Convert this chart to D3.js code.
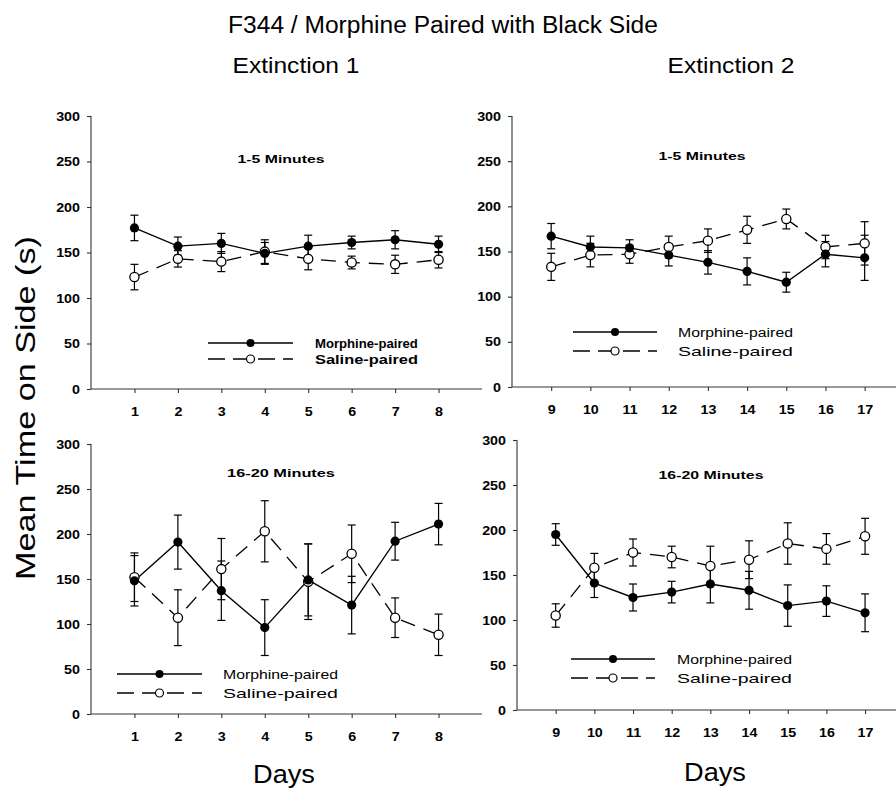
<!DOCTYPE html>
<html><head><meta charset="utf-8">
<script src="https://cdn.jsdelivr.net/npm/d3@7/dist/d3.min.js"></script>
<style>body{margin:0;background:#fff}svg{display:block}text{font-family:"Liberation Sans",Arial,sans-serif;fill:#000}</style>
</head><body>
<svg id="c" width="896" height="790"></svg>
<script>
// ---- data ----
const days1 = [1, 2, 3, 4, 5, 6, 7, 8];
const days2 = [9, 10, 11, 12, 13, 14, 15, 16, 17];
const yTicks = [0, 50, 100, 150, 200, 250, 300];

const ext1EarlyMorphine = [177, 157, 160, 149, 157, 161, 164, 159];
const ext1EarlyMorphineErr = [14, 10, 11, 12, 12, 7, 10, 9];
const ext1EarlySaline = [123, 143, 140, 151, 143, 139, 137, 142];
const ext1EarlySalineErr = [14, 9, 11, 13, 12, 7, 10, 9];

const ext2EarlyMorphine = [167, 155, 154, 146, 138, 128, 116, 147, 143];
const ext2EarlyMorphineErr = [14, 12, 9, 12, 13, 15, 11, 14, 25];
const ext2EarlySaline = [133, 146, 147, 155, 162, 174, 186, 155, 159];
const ext2EarlySalineErr = [15, 13, 10, 12, 13, 15, 11, 13, 24];

const ext1LateMorphine = [148, 191, 137, 96, 149, 121, 192, 211];
const ext1LateMorphineErr = [28, 30, 33, 31, 40, 32, 21, 23];
const ext1LateSaline = [152, 107, 161, 203, 147, 178, 107, 88];
const ext1LateSalineErr = [27, 31, 34, 34, 42, 32, 22, 23];

const ext2LateMorphine = [195, 141, 125, 131, 140, 133, 116, 121, 108];
const ext2LateMorphineErr = [12, 16, 15, 12, 21, 21, 23, 17, 21];
const ext2LateSaline = [105, 158, 175, 170, 160, 167, 185, 179, 193];
const ext2LateSalineErr = [13, 16, 15, 12, 22, 21, 23, 17, 20];

const seriesNames = ["Morphine-paired", "Saline-paired"];
const panelTitles = ["1-5 Minutes", "1-5 Minutes", "16-20 Minutes", "16-20 Minutes"];
const mainTitle = "F344 / Morphine Paired with Black Side";
const columnTitles = ["Extinction 1", "Extinction 2"];
const yLabel = "Mean Time on Side  (s)";
const xLabel = "Days";

// ---- drawing ----
const svg = d3.select("#c");

function fitText(sel, cx, y, size, weight, targetW, rot) {
  const t = sel.attr("font-size", size).attr("font-weight", weight).attr("text-anchor", "middle");
  const w = t.node().getComputedTextLength();
  const sx = targetW ? targetW / w : 1;
  t.attr("transform", `translate(${cx},${y})${rot ? " rotate(" + rot + ")" : ""} scale(${sx},1)`);
  return t;
}

const panels = [
  {days: days1, xd: [0, 9], xr: [91, 482], yr: [389, 116], m: ext1EarlyMorphine, me: ext1EarlyMorphineErr, s: ext1EarlySaline, se: ext1EarlySalineErr,
   title: panelTitles[0], tx: 281, ty: 163, tw: 87, lx: [208, 293], ly: [343, 359], ltx: 315, ltw: 103, bold: true},
  {days: days2, xd: [8, 17.8], xr: [512, 896], yr: [387, 116], m: ext2EarlyMorphine, me: ext2EarlyMorphineErr, s: ext2EarlySaline, se: ext2EarlySalineErr,
   title: panelTitles[1], tx: 702, ty: 160, tw: 87, lx: [573, 657], ly: [332, 351], ltx: 678, ltw: 115, bold: false},
  {days: days1, xd: [0, 9], xr: [91, 482], yr: [714, 444], m: ext1LateMorphine, me: ext1LateMorphineErr, s: ext1LateSaline, se: ext1LateSalineErr,
   title: panelTitles[2], tx: 281, ty: 477, tw: 108, lx: [117, 202], ly: [674, 693], ltx: 223, ltw: 115, bold: false},
  {days: days2, xd: [8, 17.8], xr: [517, 896], yr: [710, 440], m: ext2LateMorphine, me: ext2LateMorphineErr, s: ext2LateSaline, se: ext2LateSalineErr,
   title: panelTitles[3], tx: 711, ty: 479, tw: 105, lx: [571, 655], ly: [659, 678], ltx: 677, ltw: 115, bold: false}
];

const axisColor = "#333";
const tickSx = 1.1;

panels.forEach(p => {
  const x = d3.scaleLinear().domain(p.xd).range(p.xr);
  const y = d3.scaleLinear().domain([0, 300]).range(p.yr);
  const g = svg.append("g");

  // axes
  const ya = g.append("g").attr("transform", `translate(${p.xr[0]},0)`)
    .call(d3.axisLeft(y).tickValues(yTicks).tickSize(4).tickPadding(7));
  const xa = g.append("g").attr("transform", `translate(0,${p.yr[0]})`)
    .call(d3.axisBottom(x).tickValues(p.days).tickSize(4).tickFormat(d3.format("d")));
  [ya, xa].forEach(a => {
    a.select(".domain").attr("stroke", axisColor).attr("stroke-width", 1.1);
    a.selectAll(".tick line").attr("stroke", axisColor).attr("stroke-width", 1.1);
    a.selectAll("text").attr("font-family", '"Liberation Sans",Arial,sans-serif')
      .attr("font-size", 13).attr("font-weight", "bold").attr("fill", "#000")
      .attr("transform", `scale(${tickSx},1)`);
  });
  ya.selectAll(".tick text").each(function() {
    const t = d3.select(this); t.attr("x", +t.attr("x") / tickSx);
  });
  xa.selectAll(".tick text").attr("y", 22).attr("dy", "0.35em");
  ya.select(".domain").attr("d", `M0,${p.yr[0]}V${p.yr[1]}`);
  xa.select(".domain").attr("d", `M${p.xr[0]},0H${p.xr[1]}`);

  const pts = (vals, errs) => p.days.map((d, i) => ({d, v: vals[i], e: errs[i]}));
  const mPts = pts(p.m, p.me), sPts = pts(p.s, p.se);
  const line = d3.line().x(d => x(d.d)).y(d => y(d.v));

  g.append("path").datum(sPts).attr("d", line).attr("fill", "none").attr("stroke", "#000")
    .attr("stroke-width", 1.3).attr("stroke-dasharray", "15,9");
  g.append("path").datum(mPts).attr("d", line).attr("fill", "none").attr("stroke", "#000")
    .attr("stroke-width", 1.4);

  [mPts, sPts].forEach(arr => {
    const eb = g.append("g").attr("stroke", "#000").attr("stroke-width", 1.2);
    arr.forEach(d => {
      eb.append("line").attr("x1", x(d.d)).attr("x2", x(d.d)).attr("y1", y(d.v - d.e)).attr("y2", y(d.v + d.e));
      eb.append("line").attr("x1", x(d.d) - 4).attr("x2", x(d.d) + 4).attr("y1", y(d.v + d.e)).attr("y2", y(d.v + d.e));
      eb.append("line").attr("x1", x(d.d) - 4).attr("x2", x(d.d) + 4).attr("y1", y(d.v - d.e)).attr("y2", y(d.v - d.e));
    });
  });

  g.selectAll(".sm").data(sPts).join("circle").attr("cx", d => x(d.d)).attr("cy", d => y(d.v))
    .attr("r", 4.6).attr("fill", "#fff").attr("stroke", "#000").attr("stroke-width", 1.3);
  g.selectAll(".mm").data(mPts).join("circle").attr("cx", d => x(d.d)).attr("cy", d => y(d.v))
    .attr("r", 4.6).attr("fill", "#000");

  // panel title
  fitText(g.append("text").text(p.title), p.tx, p.ty, 11.5, "bold", p.tw);

  // legend
  const lg = g.append("g");
  lg.append("line").attr("x1", p.lx[0]).attr("x2", p.lx[1]).attr("y1", p.ly[0]).attr("y2", p.ly[0])
    .attr("stroke", "#000").attr("stroke-width", 1.3);
  lg.append("line").attr("x1", p.lx[0]).attr("x2", p.lx[1]).attr("y1", p.ly[1]).attr("y2", p.ly[1])
    .attr("stroke", "#000").attr("stroke-width", 1.3).attr("stroke-dasharray", "17,8");
  const mx = (p.lx[0] + p.lx[1]) / 2;
  lg.append("circle").attr("cx", mx).attr("cy", p.ly[0]).attr("r", 4).attr("fill", "#000");
  lg.append("circle").attr("cx", mx).attr("cy", p.ly[1]).attr("r", 4).attr("fill", "#fff")
    .attr("stroke", "#000").attr("stroke-width", 1.2);
  seriesNames.forEach((n, i) => {
    const t = lg.append("text").text(n).attr("font-size", 12.5).attr("font-weight", p.bold ? "bold" : "normal");
    const w = t.node().getComputedTextLength();
    t.attr("transform", `translate(${p.ltx},${p.ly[i] + 4.5}) scale(${p.ltw / w},1)`);
  });
});

// titles
fitText(svg.append("text").text(mainTitle), 443, 33, 23, "normal", 430);
fitText(svg.append("text").text(columnTitles[0]), 296, 73, 22, "normal", 127);
fitText(svg.append("text").text(columnTitles[1]), 731, 73, 22, "normal", 127);
fitText(svg.append("text").text(xLabel), 284, 783, 25, "normal", 62);
fitText(svg.append("text").text(xLabel), 715, 781, 25, "normal", 62);
fitText(svg.append("text").text(yLabel), 35, 408, 27, "normal", 344, -90);
</script>
</body></html>
